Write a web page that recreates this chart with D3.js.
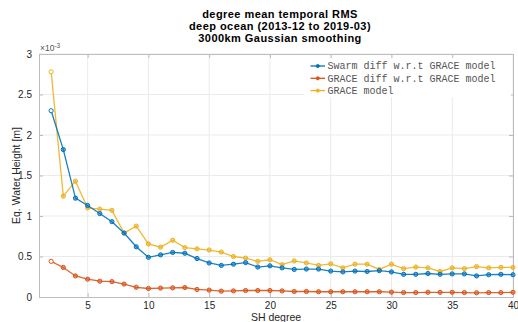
<!DOCTYPE html>
<html>
<head>
<meta charset="utf-8">
<script src="https://cdn.jsdelivr.net/npm/d3@7"></script>
<style>
  html, body { margin: 0; padding: 0; background: #fff; }
  svg { display: block; }
</style>
</head>
<body>
<svg id="chart" width="518" height="322"></svg>
<script>
// SH degrees 2..40
const degrees = d3.range(2, 41);

// Degree mean temporal RMS, units of 1e-3 m
const swarmDiff = [2.30, 1.82, 1.22, 1.13, 1.03, 0.93, 0.79, 0.62, 0.49, 0.52,
  0.55, 0.54, 0.475, 0.42, 0.39, 0.405, 0.425, 0.37, 0.385, 0.36,
  0.34, 0.345, 0.345, 0.32, 0.31, 0.32, 0.315, 0.325, 0.31, 0.28,
  0.28, 0.29, 0.28, 0.285, 0.285, 0.26, 0.275, 0.28, 0.275];

const graceDiff = [0.44, 0.365, 0.26, 0.22, 0.195, 0.19, 0.16, 0.12, 0.105, 0.11,
  0.113, 0.117, 0.093, 0.085, 0.072, 0.075, 0.08, 0.08, 0.08, 0.075,
  0.068, 0.068, 0.065, 0.065, 0.065, 0.065, 0.065, 0.065, 0.06, 0.055,
  0.055, 0.058, 0.058, 0.058, 0.055, 0.052, 0.055, 0.055, 0.058];

const graceModel = [2.78, 1.245, 1.43, 1.10, 1.085, 1.07, 0.79, 0.875, 0.655, 0.615,
  0.70, 0.61, 0.595, 0.58, 0.555, 0.50, 0.48, 0.44, 0.46, 0.40,
  0.445, 0.42, 0.39, 0.41, 0.36, 0.405, 0.405, 0.34, 0.405, 0.35,
  0.37, 0.36, 0.315, 0.36, 0.35, 0.375, 0.36, 0.365, 0.365];

const seriesNames = ["Swarm diff w.r.t GRACE model", "GRACE diff w.r.t GRACE model", "GRACE model"];
const seriesColors = ["#0072BD", "#D95319", "#EDB120"];
const xTicks = [5, 10, 15, 20, 25, 30, 35, 40];
const yTicks = [0, 0.5, 1, 1.5, 2, 2.5, 3];
const titleLines = ["degree mean temporal RMS", "deep ocean (2013-12 to 2019-03)", "3000km Gaussian smoothing"];

const svg = d3.select("#chart");
const m = { left: 39, right: 5, top: 54, bottom: 25 };
const W = 518, H = 322;
const x = d3.scaleLinear().domain([1, 40]).range([m.left, W - m.right]);
const y = d3.scaleLinear().domain([0, 3]).range([H - m.bottom, m.top]);

const font = "'Liberation Sans', Arial, Helvetica, sans-serif";

// grid
const grid = svg.append("g");
grid.selectAll(".gx").data(xTicks).join("line")
  .attr("x1", d => x(d)).attr("x2", d => x(d))
  .attr("y1", y(0)).attr("y2", y(3))
  .attr("stroke", "#ebebeb").attr("stroke-width", 1);
grid.selectAll(".gy").data(yTicks.slice(1)).join("line")
  .attr("x1", x(1)).attr("x2", x(40))
  .attr("y1", d => y(d)).attr("y2", d => y(d))
  .attr("stroke", "#ebebeb").attr("stroke-width", 1);

// axes
const axisColor = "#bdbdbd";
const xAxis = svg.append("g").attr("transform", `translate(0,${y(0)})`)
  .call(d3.axisBottom(x).tickValues(xTicks).tickSize(-4).tickPadding(5).tickFormat(d3.format("d")));
const xAxisTop = svg.append("g").attr("transform", `translate(0,${y(3)})`)
  .call(d3.axisTop(x).tickValues(xTicks).tickSize(-4).tickFormat(""));
const yAxis = svg.append("g").attr("transform", `translate(${x(1)},0)`)
  .call(d3.axisLeft(y).tickValues(yTicks).tickSize(-4).tickPadding(7).tickFormat(d => d3.format("")(d)));
const yAxisRight = svg.append("g").attr("transform", `translate(${x(40)},0)`)
  .call(d3.axisRight(y).tickValues(yTicks).tickSize(-4).tickFormat(""));

[xAxis, xAxisTop, yAxis, yAxisRight].forEach(g => {
  g.select(".domain").attr("stroke", axisColor).attr("stroke-width", 1);
  g.selectAll(".tick line").attr("stroke", axisColor);
  g.selectAll(".tick text").attr("fill", "#262626").style("font-family", font).style("font-size", "10px");
});

// exponent label
const expo = svg.append("text").attr("x", x(1) + 1).attr("y", y(3) - 3)
  .attr("fill", "#555").style("font-family", font).style("font-size", "8.5px");
expo.append("tspan").text("\u00d710");
expo.append("tspan").attr("dy", -3.5).style("font-size", "6.5px").text("-3");

// lines and markers
const allSeries = [swarmDiff, graceDiff, graceModel];
const line = d3.line().x((d, i) => x(degrees[i])).y(d => y(d));
// draw yellow first, then orange, then blue on top
[2, 1, 0].forEach(k => {
  const g = svg.append("g");
  g.append("path").datum(allSeries[k])
    .attr("d", line).attr("fill", "none")
    .attr("stroke", seriesColors[k]).attr("stroke-width", 1.3)
    .attr("stroke-opacity", 0.9);
  g.selectAll("circle").data(allSeries[k]).join("circle")
    .attr("cx", (d, i) => x(degrees[i])).attr("cy", d => y(d))
    .attr("r", 2.1)
    .attr("fill", (d, i) => i === 0 ? "#fff" : seriesColors[k])
    .attr("fill-opacity", (d, i) => i === 0 ? 1 : 0.55)
    .attr("stroke", seriesColors[k]).attr("stroke-width", 1);
});

// titles
svg.append("g").selectAll("text").data(titleLines).join("text")
  .attr("x", 280).attr("y", (d, i) => 17.5 + i * 12.2)
  .attr("text-anchor", "middle")
  .attr("fill", "#000").style("font-family", font)
  .style("font-size", "11px").style("font-weight", "bold")
  .style("letter-spacing", "0.45px")
  .text(d => d);

// axis labels
svg.append("text").attr("x", (x(1) + x(40)) / 2).attr("y", 321)
  .attr("text-anchor", "middle").attr("fill", "#262626")
  .style("font-family", font).style("font-size", "10.5px").text("SH degree");
svg.append("text")
  .attr("transform", `translate(20,${(y(0) + y(3)) / 2}) rotate(-90)`)
  .attr("text-anchor", "middle").attr("fill", "#262626")
  .style("font-family", font).style("font-size", "10.5px").text("Eq. Water Height [m]");

// legend
const lg = svg.append("g");
lg.append("rect").attr("x", 304).attr("y", 58).attr("width", 207).attr("height", 39).attr("fill", "#fff");
seriesNames.forEach((name, k) => {
  const yy = 66 + k * 12.3;
  lg.append("line").attr("x1", 310.5).attr("x2", 325).attr("y1", yy).attr("y2", yy)
    .attr("stroke", seriesColors[k]).attr("stroke-width", 1.3);
  lg.append("circle").attr("cx", 317.8).attr("cy", yy).attr("r", 1.6)
    .attr("fill", seriesColors[k]).attr("stroke", seriesColors[k]).attr("stroke-width", 0.8);
  lg.append("text").attr("x", 327.5).attr("y", yy + 3.3)
    .attr("fill", "#555").style("font-family", "'Liberation Mono', 'Courier New', monospace")
    .style("font-size", "10px").text(name);
});
</script>
</body>
</html>
